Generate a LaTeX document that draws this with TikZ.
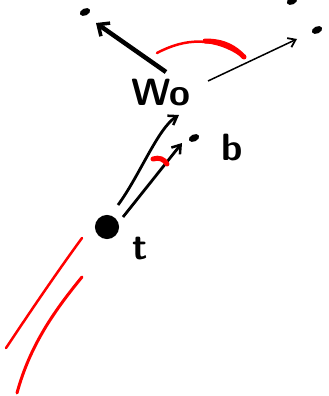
\documentclass[tikz,border=0pt]{standalone}
\usetikzlibrary{arrows.meta,shapes.geometric}
\begin{document}
\begin{tikzpicture}[x=1pt,y=-1pt,
  dotmark/.style={ellipse,fill=black,inner sep=0pt,minimum width=11pt,minimum height=7pt,rotate=25},
  bigdot/.style={circle,draw=black,line width=6pt,fill=black,inner sep=0pt,minimum size=18pt},
  lbl/.style={font=\sffamily\bfseries\fontsize{38}{38}\selectfont,inner sep=0pt},
  thickarrow/.style={line width=4.5pt,-{Straight Barb[length=9pt,width=16pt,line width=3.5pt]}},
  thinarrow/.style={line width=1.5pt,-{Straight Barb[length=7pt,width=10pt,line width=1.8pt]}},
  midarrow/.style={line width=2.8pt,-{Straight Barb[length=8pt,width=11pt,line width=2.5pt]}},
  redstroke/.style={red,line cap=round}]
\useasboundingbox (0,0) rectangle (329,396);
\fill[white] (0,0) rectangle (329,396);
% dots
\node[dotmark] (p1) at (85,12) {};
\node[dotmark] (p2) at (292,1) {};
\node[dotmark] (p3) at (317,30) {};
\node[dotmark] (bd) at (194,138) {};
\node[bigdot] (tdot) at (107,227) {};
% labels
\node[lbl] (wo) at (161,93) {Wo};
\node[lbl] (blab) at (232,148) {b};
\node[lbl] (tlab) at (140,249) {t};
% coordinates
\coordinate (a1s) at (166,72);
\coordinate (a1e) at (96,23);
\coordinate (a2s) at (208,81);
\coordinate (a2e) at (297,39);
\coordinate (a3s) at (118,205);
\coordinate (a3e) at (179,115);
\coordinate (a4s) at (123,217);
\coordinate (a4e) at (182,143);
% arrows
\draw[thickarrow] (a1s) -- (a1e);
\draw[thinarrow] (a2s) -- (a2e);
\draw[midarrow] (a3s) .. controls (140,175) and (158,128) .. (a3e);
\draw[midarrow] (a4s) -- (a4e);
% red strokes
\draw[redstroke,line width=2.5pt] (157,53) .. controls (185,38) and (215,36) .. (245,58);
\draw[redstroke,line width=5pt] (205,41) .. controls (225,41) and (235,48) .. (244,57);
\draw[redstroke,line width=5pt] (153,159) .. controls (159,157) and (164,159) .. (167,164);
\draw[redstroke,line width=2.5pt] (82,238) .. controls (55,275) and (30,312) .. (6,348);
\draw[redstroke,line width=3pt] (82,277) .. controls (55,310) and (30,345) .. (17,393);
\end{tikzpicture}
\end{document}
